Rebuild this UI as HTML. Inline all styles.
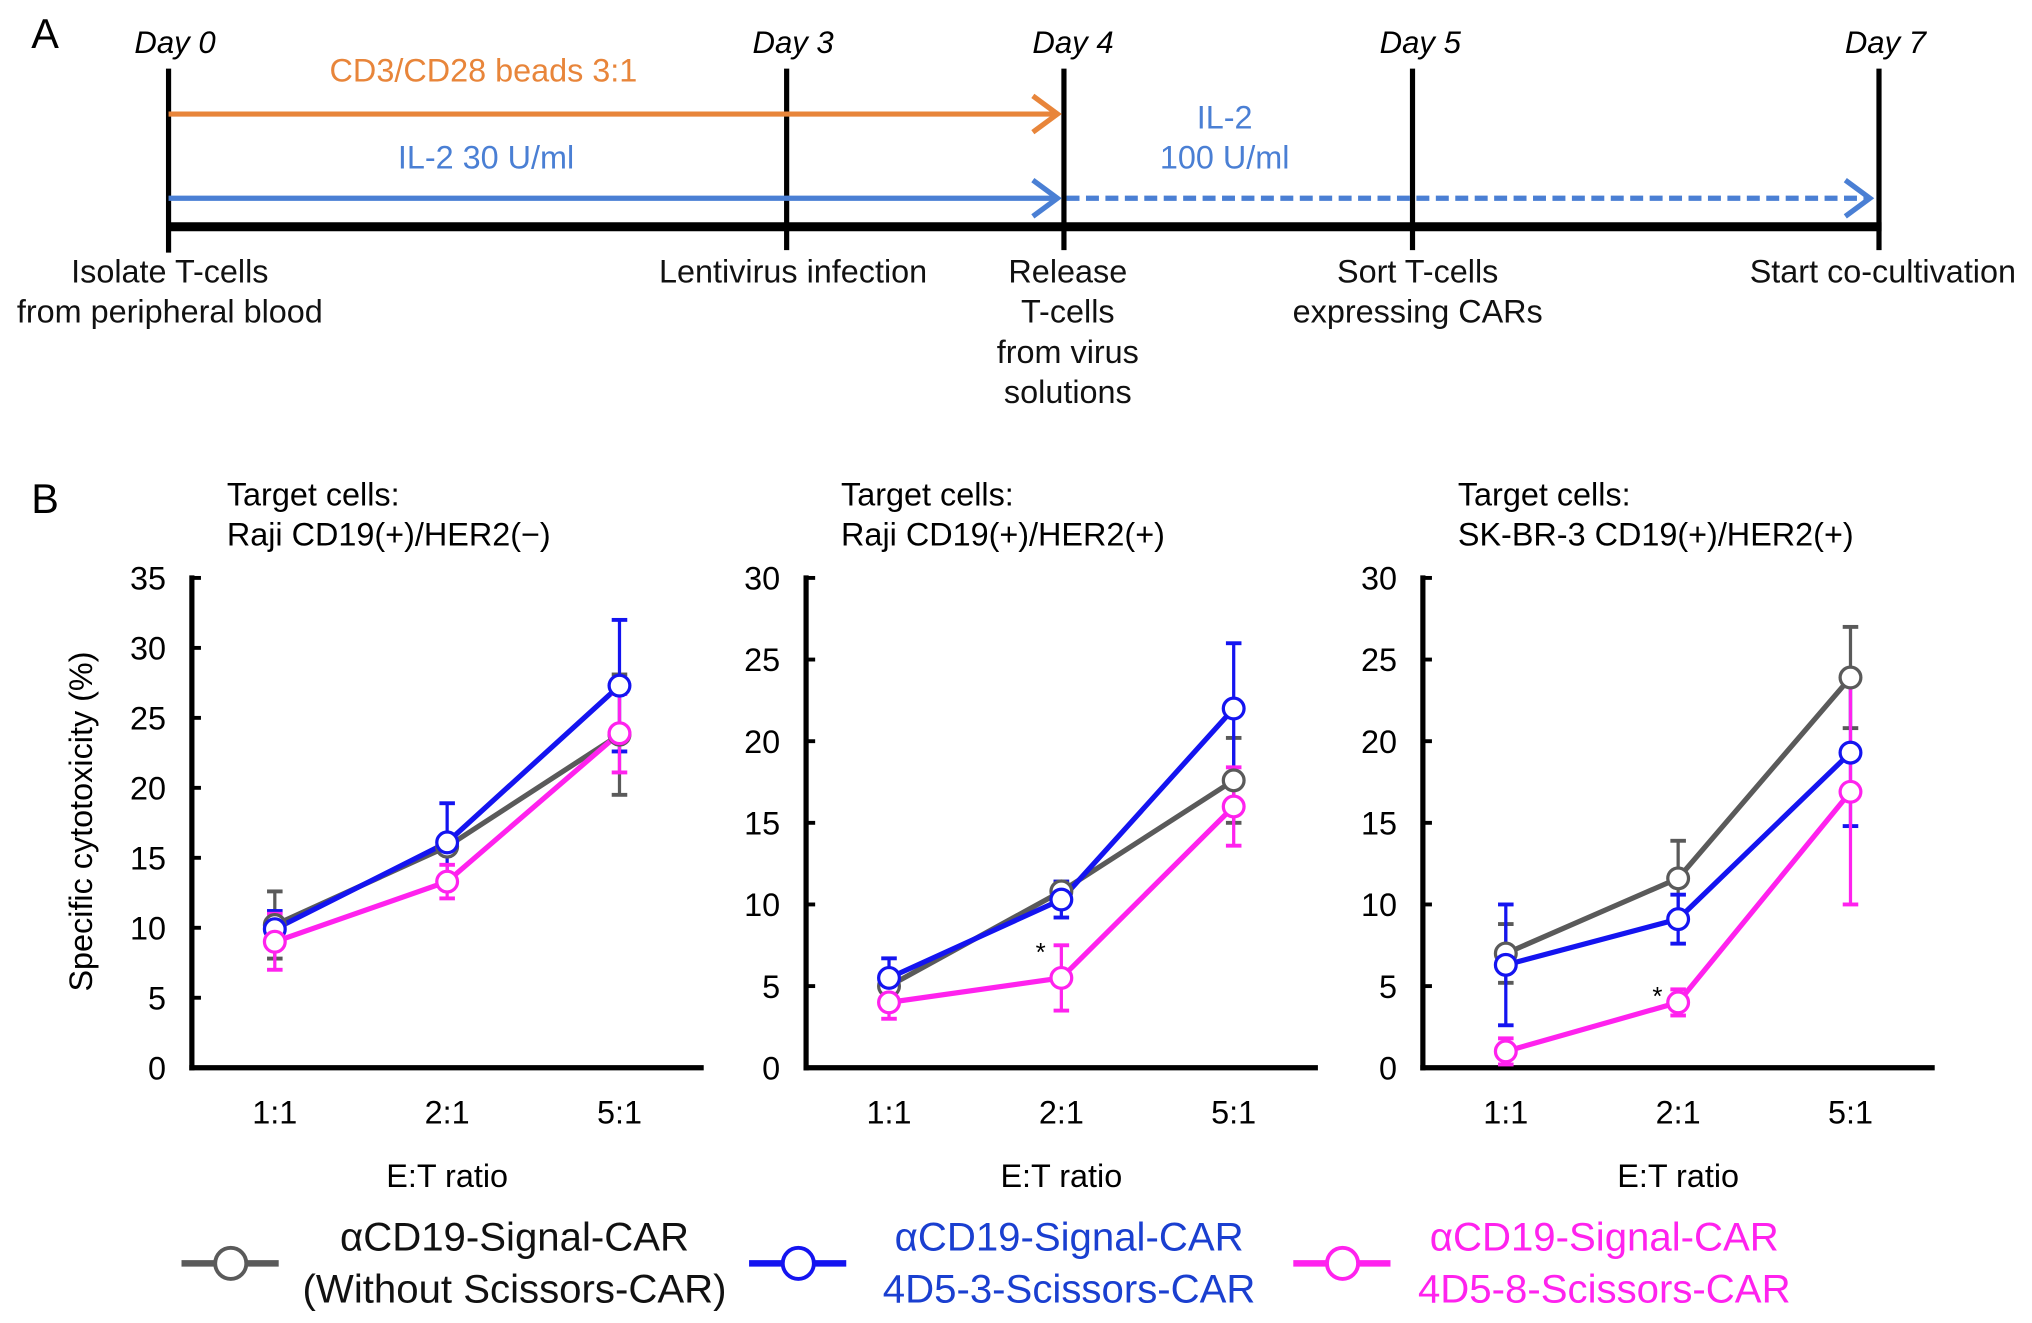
<!DOCTYPE html>
<html><head><meta charset="utf-8"><style>
html,body{margin:0;padding:0;background:#fff;}
svg{display:block;font-family:"Liberation Sans",sans-serif;}
</style></head><body>
<svg id="fig" width="2032" height="1323" viewBox="0 0 1568 1021" xmlns="http://www.w3.org/2000/svg">
<g id="panelA">
<text x="24" y="37" font-size="32">A</text>
<g font-size="24" font-style="italic" text-anchor="middle">
<text x="135" y="41">Day 0</text>
<text x="612" y="41">Day 3</text>
<text x="828" y="41">Day 4</text>
<text x="1096" y="41">Day 5</text>
<text x="1455" y="41">Day 7</text>
</g>
<g stroke="#000" stroke-width="4">
<line x1="130" y1="53" x2="130" y2="195"/>
<line x1="607" y1="53" x2="607" y2="193"/>
<line x1="821" y1="53" x2="821" y2="193"/>
<line x1="1090" y1="53" x2="1090" y2="193"/>
<line x1="1450" y1="53" x2="1450" y2="193"/>
</g>
<line x1="130" y1="175" x2="1452" y2="175" stroke="#000" stroke-width="7"/>
<line x1="130" y1="88" x2="816" y2="88" stroke="#e8853a" stroke-width="4"/>
<polyline points="797,74 816,88 797,102" fill="none" stroke="#e8853a" stroke-width="4"/>
<text x="373" y="63" font-size="25" fill="#e8853a" text-anchor="middle">CD3/CD28 beads 3:1</text>
<line x1="130" y1="153" x2="816" y2="153" stroke="#4a7fd4" stroke-width="4"/>
<polyline points="797,139 816,153 797,167" fill="none" stroke="#4a7fd4" stroke-width="4"/>
<text x="375" y="130" font-size="25" fill="#4a7fd4" text-anchor="middle">IL-2 30 U/ml</text>
<line x1="823" y1="153" x2="1443" y2="153" stroke="#4a7fd4" stroke-width="4" stroke-dasharray="10,5"/>
<polyline points="1424,139 1443,153 1424,167" fill="none" stroke="#4a7fd4" stroke-width="4"/>
<text x="945" y="99" font-size="25" fill="#4a7fd4" text-anchor="middle">IL-2</text>
<text x="945" y="130" font-size="25" fill="#4a7fd4" text-anchor="middle">100 U/ml</text>
<g font-size="25" text-anchor="middle" fill="#111">
<text x="131" y="218"><tspan x="131">Isolate T-cells</tspan><tspan x="131" dy="31">from peripheral blood</tspan></text>
<text x="612" y="218">Lentivirus infection</text>
<text x="824" y="218"><tspan x="824">Release</tspan><tspan x="824" dy="31">T-cells</tspan><tspan x="824" dy="31">from virus</tspan><tspan x="824" dy="31">solutions</tspan></text>
<text x="1094" y="218"><tspan x="1094">Sort T-cells</tspan><tspan x="1094" dy="31">expressing CARs</tspan></text>
<text x="1453" y="218">Start co-cultivation</text>
</g>
</g>
<text x="24" y="396" font-size="32">B</text>
<text transform="translate(71,634) rotate(-90)" font-size="25" text-anchor="middle">Specific cytotoxicity (%)</text>
<g id="plots"></g>
<g id="legend"></g>
</svg>
<script>
const categories = ["1:1", "2:1", "5:1"];
const titles1 = ["Target cells:", "Target cells:", "Target cells:"];
const titles2 = ["Raji CD19(+)/HER2(\u2212)", "Raji CD19(+)/HER2(+)", "SK-BR-3 CD19(+)/HER2(+)"];
const yMax = [35, 30, 30];
const yTicks1 = [0,5,10,15,20,25,30,35];
const yTicks23 = [0,5,10,15,20,25,30];
const seriesNames = ["without-scissors", "4d5-3-scissors", "4d5-8-scissors"];
const grayVals = [[10.2,15.8,23.8],[5.0,10.8,17.6],[7.0,11.6,23.9]];
const grayErr  = [[2.4,0.5,4.3],[0.8,0.6,2.6],[1.8,2.3,3.1]];
const blueVals = [[9.9,16.1,27.3],[5.5,10.3,22.0],[6.3,9.1,19.3]];
const blueErr  = [[1.3,2.8,4.7],[1.2,1.1,4.0],[3.7,1.5,4.5]];
const magVals  = [[9.0,13.3,23.9],[4.0,5.5,16.0],[1.0,4.0,16.9]];
const magErr   = [[2.0,1.2,2.8],[1.0,2.0,2.4],[0.8,0.8,6.9]];
const asterisks = [[], [1], [1]];

const NS = "http://www.w3.org/2000/svg";
const colors = ["#5a5a5a", "#1414f0", "#ff22ee"];
function mk(tag, attrs, parent){const e=document.createElementNS(NS,tag);for(const k in attrs)e.setAttribute(k,attrs[k]);parent.appendChild(e);return e;}
const plots = document.getElementById('plots');
const axX = [148, 622, 1098];
const y0 = 824, yTop = 446, catGap = 133, firstOff = 64;
for (let p=0;p<3;p++){
  const g = mk('g',{},plots);
  
  
  const ax = axX[p];
  const ys = v => y0 - v/yMax[p]*(y0-yTop);
  const xs = i => ax + firstOff + i*catGap;
  const t1 = mk('text',{x:ax+27,y:390,'font-size':25},g); t1.textContent=titles1[p];
   
  const t2 = mk('text',{x:ax+27,y:421,'font-size':25},g); t2.textContent=titles2[p];
   
  const ticks = p===0 ? yTicks1 : yTicks23;
  ticks.forEach(t=>{
    const l = mk('line',{x1:ax,x2:ax+7,y1:ys(t),y2:ys(t),stroke:'#000','stroke-width':3},g);
     
    const tx = mk('text',{x:ax-20,y:ys(t)+9,'font-size':25,'text-anchor':'end'},g); tx.textContent=t;
     
  });
  const ya = mk('line',{x1:ax,x2:ax,y1:yTop-2,y2:y0+2,stroke:'#000','stroke-width':4},g);
   
  const xa = mk('line',{x1:ax-2,x2:ax+395,y1:y0,y2:y0,stroke:'#000','stroke-width':4},g);
   
  categories.forEach((c,i)=>{
    const tx = mk('text',{x:xs(i),y:867,'font-size':25,'text-anchor':'middle'},g); tx.textContent=c;
     
  });
  const xt = mk('text',{x:xs(1),y:916,'font-size':25,'text-anchor':'middle'},g); xt.textContent='E:T ratio';
   
  const allV=[grayVals[p],blueVals[p],magVals[p]], allE=[grayErr[p],blueErr[p],magErr[p]];
  for(let s=0;s<3;s++){
    const sg = mk('g',{},g);
     
    allV[s].forEach((v,i)=>{
      const e=allE[s][i];
      const el = mk('line',{x1:xs(i),x2:xs(i),y1:ys(v+e),y2:ys(Math.max(0,v-e)),stroke:colors[s],'stroke-width':2.5},sg);
       
      [v+e, Math.max(0,v-e)].forEach(w=>{
        const c = mk('line',{x1:xs(i)-6,x2:xs(i)+6,y1:ys(w),y2:ys(w),stroke:colors[s],'stroke-width':3},sg);
         
      });
    });
    const pl = mk('polyline',{points:allV[s].map((v,i)=>xs(i)+','+ys(v)).join(' '),fill:'none',stroke:colors[s],'stroke-width':4},sg);
     
  }
  for(let s=0;s<3;s++){
    allV[s].forEach((v,i)=>{
      const c = mk('circle',{cx:xs(i),cy:ys(v),r:8,fill:'#fff',stroke:colors[s],'stroke-width':2.5},g);
       
    });
  }
  asterisks[p].forEach(i=>{
    const a = mk('text',{x:xs(i)-16,y:ys(magVals[p][i]+magErr[p][i])+12,'font-size':20,'text-anchor':'middle'},g); a.textContent='*';
     
  });
}
const legend = document.getElementById('legend');
const legX = [140, 578, 998];
const legTextX = [397, 825, 1238];
const legLines = [["\u03b1CD19-Signal-CAR","(Without Scissors-CAR)"],["\u03b1CD19-Signal-CAR","4D5-3-Scissors-CAR"],["\u03b1CD19-Signal-CAR","4D5-8-Scissors-CAR"]];
const legColors = ["#111", "#1a3fd0", "#ff22ee"];
for(let s=0;s<3;s++){
  const g = mk('g',{},legend);
   
  mk('line',{x1:legX[s],x2:legX[s]+75,y1:975,y2:975,stroke:colors[s],'stroke-width':5},g);
  mk('circle',{cx:legX[s]+38,cy:975,r:12,fill:'#fff',stroke:colors[s],'stroke-width':3},g);
  const t = mk('text',{x:legTextX[s],y:965,'font-size':31,'text-anchor':'middle',fill:legColors[s]},g);
  t.textContent = legLines[s][0];
  const t2 = mk('text',{x:legTextX[s],y:1005,'font-size':31,'text-anchor':'middle',fill:legColors[s]},g);
  t2.textContent = legLines[s][1];
}
</script>
</body></html>
